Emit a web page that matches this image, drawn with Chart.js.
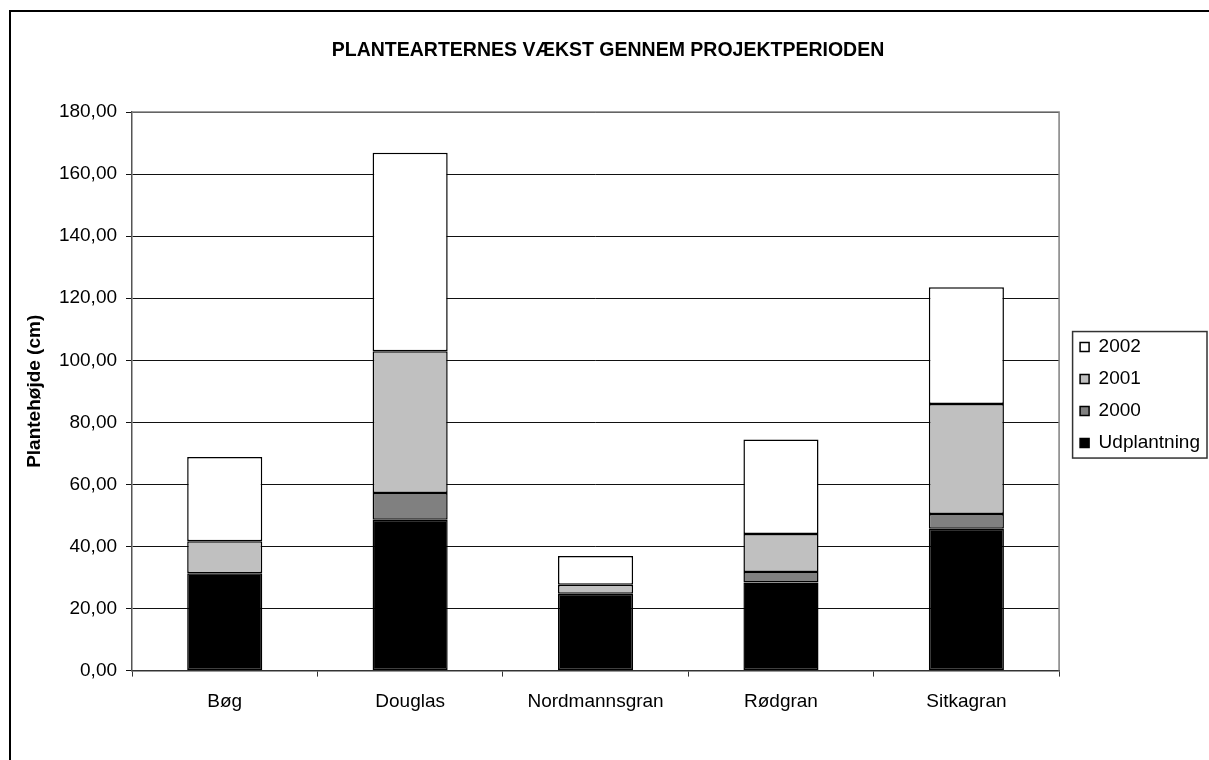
<!DOCTYPE html>
<html lang="da">
<head>
<meta charset="UTF-8" />
<title>Planteartenes vækst</title>
<script src="https://cdn.jsdelivr.net/npm/chart.js@4.4.1/dist/chart.umd.min.js"></script>
<style>
  html, body { margin: 0; padding: 0; background: #fff; overflow: hidden; }
  #frame { position: absolute; left: 9px; top: 10px; width: 1300px; height: 900px; border: 2px solid #000; }
  #myChart { position: absolute; left: 0; top: 0; }
</style>
</head>
<body>
<div id="frame"></div>
<canvas id="myChart" width="1209" height="760"></canvas>
<script>
  // data
  const categories = ["Bøg", "Douglas", "Nordmannsgran", "Rødgran", "Sitkagran"];
  const udplantning = [31.4, 48.6, 24.8, 28.4, 45.7];
  const aar2000 = [0, 8.6, 0, 3.4, 4.8];
  const aar2001 = [10.3, 45.7, 2.9, 12.2, 35.4];
  const aar2002 = [27.1, 64.0, 9.2, 30.5, 37.6];

  const fontFam = "'Liberation Sans', Arial, sans-serif";
  Chart.defaults.font.family = fontFam;
  Chart.defaults.font.size = 19;
  Chart.defaults.color = "#000";

  const mkSet = (label, data, color) => ({
    label: label,
    data: data,
    backgroundColor: color,
    borderColor: "#000",
    borderWidth: 1.5,
    borderSkipped: false,
    barPercentage: 0.405,
    categoryPercentage: 1
  });

  // plot frame + legend box
  const framePlugin = {
    id: "framePlugin",
    afterLayout(chart) {
      const l = chart.legend;
      const ca = chart.chartArea;
      l.left += 8;
      l.right += 8;
      l.top = ca.top;
      l.bottom = ca.bottom + 7.5;
    },
    afterDatasetsDraw(chart) {
      const ctx = chart.ctx;
      const ca = chart.chartArea;
      ctx.save();
      ctx.strokeStyle = "#808080";
      ctx.lineWidth = 1.5;
      ctx.beginPath();
      ctx.moveTo(ca.left, ca.top);
      ctx.lineTo(ca.right, ca.top);
      ctx.lineTo(ca.right, ca.bottom);
      ctx.stroke();
      ctx.restore();
    },
    afterDraw(chart) {
      const ctx = chart.ctx;
      const l = chart.legend;
      const pad = l.options.labels.padding;
      const fs = l.options.labels.font.size;
      const n = l.legendItems.length;
      const colH = n * (fs + pad);
      const y0 = ((l.top + pad) + (l.bottom - colH)) / 2;
      const bx = l.left + pad - 7.5;
      ctx.save();
      ctx.strokeStyle = "#333";
      ctx.lineWidth = 1.5;
      ctx.strokeRect(bx, y0 - 6, l.right - 3 - bx, (n - 1) * (fs + pad) + fs / 2 + 21);
      ctx.restore();
    }
  };

  const ctx = document.getElementById("myChart").getContext("2d");
  const myChart = new Chart(ctx, {
    type: "bar",
    data: {
      labels: categories,
      datasets: [
        mkSet("Udplantning", udplantning, "#000000"),
        mkSet("2000", aar2000, "#808080"),
        mkSet("2001", aar2001, "#C0C0C0"),
        mkSet("2002", aar2002, "#FFFFFF")
      ]
    },
    options: {
      responsive: false,
      animation: false,
      layout: { padding: { left: 14, top: 12, right: 7, bottom: 32.6 } },
      plugins: {
        title: {
          display: true,
          text: "PLANTEARTERNES VÆKST GENNEM PROJEKTPERIODEN",
          font: { size: 19.5, weight: "bold" },
          color: "#000",
          padding: { top: 26.6, bottom: 50 }
        },
        legend: {
          position: "right",
          reverse: true,
          labels: {
            boxWidth: 9,
            boxHeight: 9,
            padding: 13,
            color: "#000",
            font: { size: 19 }
          }
        },
        tooltip: { enabled: false }
      },
      scales: {
        x: {
          stacked: true,
          offset: true,
          grid: { offset: true, drawOnChartArea: false, tickLength: 6, color: "#333", lineWidth: 1 },
          border: { color: "#333", width: 1.5 },
          ticks: { padding: 14, color: "#000", font: { size: 19 } }
        },
        y: {
          stacked: true,
          min: 0,
          max: 180,
          ticks: {
            stepSize: 20,
            padding: 9,
            color: "#000",
            font: { size: 19 },
            callback: (v) => v.toFixed(2).replace(".", ",")
          },
          grid: { color: "#111", lineWidth: 1, tickLength: 6 },
          border: { color: "#555", width: 1.5 },
          title: {
            display: true,
            text: "Plantehøjde (cm)",
            color: "#000",
            font: { size: 19, weight: "bold" },
            padding: { top: 9.6, bottom: 3.5 }
          }
        }
      }
    },
    plugins: [framePlugin]
  });
</script>
</body>
</html>
